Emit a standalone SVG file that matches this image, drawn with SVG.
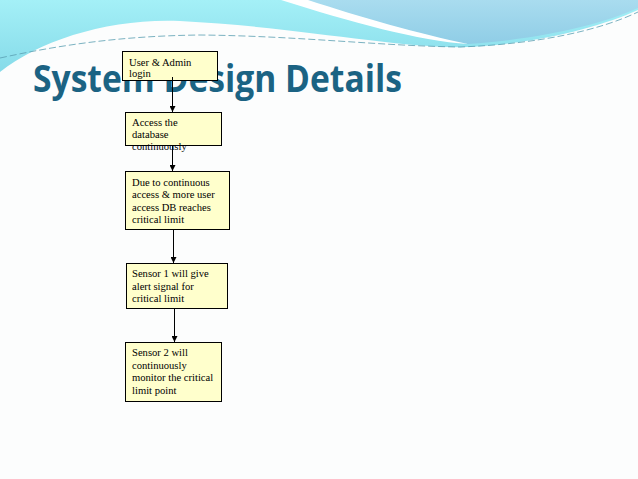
<svg xmlns="http://www.w3.org/2000/svg" width="638" height="479" viewBox="0 0 638 479">
<defs>
<linearGradient id="cy" x1="0" y1="0" x2="0" y2="1">
<stop offset="0" stop-color="#a4f0f7"/>
<stop offset="1" stop-color="#86dbe9"/>
</linearGradient>
<linearGradient id="bl" x1="0" y1="0" x2="0" y2="1">
<stop offset="0" stop-color="#a9dcef"/>
<stop offset="1" stop-color="#8fcde6"/>
</linearGradient>
<marker id="ah" viewBox="0 0 10 10" refX="10" refY="5" markerWidth="6" markerHeight="6" markerUnits="userSpaceOnUse" orient="auto">
<path d="M0,0 L10,5 L0,10 Z" fill="#000"/>
</marker>
<style>
.box{fill:#ffffcc;stroke:#000;stroke-width:1}
.t{font-family:"Liberation Serif","Times New Roman",serif;font-size:10.6px;fill:#000}
.c{stroke:#000;stroke-width:1;fill:none;marker-end:url(#ah)}
.title{font-family:"Open Sans","Liberation Sans",sans-serif;font-weight:bold;font-size:37px;fill:#1b6383}
</style>
</defs>
<rect width="638" height="479" fill="#fcfdfd"/>
<g id="background">
<path d="M0,0 H638 V10 C600,27 540,43 470,47 C400,49 300,27 180,21 C110,18 40,40 0,72 Z" fill="url(#cy)"/>
<path d="M300,0 H638 V8 C600,25 540,39 468,44 C420,38 370,20 306,0 Z" fill="url(#bl)"/>
<path d="M281,0 H308 C360,17 420,34 468,44 C420,41 350,22 281,0 Z" fill="#ffffff"/>
<path d="M0,58 C60,45 120,36 200,35 C300,36 380,46 460,47 C540,44 600,30 638,12" stroke="#5a9fb2" stroke-width="1" stroke-dasharray="7,3" fill="none" opacity="0.8"/>
</g>
<text class="title" x="33" y="92" textLength="369" lengthAdjust="spacingAndGlyphs">System Design Details</text>
<g id="n1">
<rect class="box" x="122.5" y="51.5" width="95" height="29"/>
<text class="t" x="129" y="66">User &amp; Admin</text>
<text class="t" x="129" y="77">login</text>
</g>
<g id="n2">
<rect class="box" x="125.5" y="112.5" width="96" height="33"/>
<text class="t" x="132" y="126">Access the</text>
<text class="t" x="132" y="138">database</text>
<text class="t" x="132" y="149.5">continuously</text>
</g>
<g id="n3">
<rect class="box" x="125.5" y="171.5" width="104" height="58"/>
<text class="t" x="132" y="185.5">Due to continuous</text>
<text class="t" x="132" y="198">access &amp; more user</text>
<text class="t" x="132" y="210.5">access DB reaches</text>
<text class="t" x="132" y="223">critical limit</text>
</g>
<g id="n4">
<rect class="box" x="126.5" y="263.5" width="101" height="45"/>
<text class="t" x="132" y="277">Sensor 1 will give</text>
<text class="t" x="132" y="289.5">alert signal for</text>
<text class="t" x="132" y="302">critical limit</text>
</g>
<g id="n5">
<rect class="box" x="125.5" y="342.5" width="96" height="59"/>
<text class="t" x="132" y="356">Sensor 2 will</text>
<text class="t" x="132" y="368.5">continuously</text>
<text class="t" x="132" y="381">monitor the critical</text>
<text class="t" x="132" y="393.5">limit point</text>
</g>
<g id="connectors">
<path class="c" d="M172.5,77 V112"/>
<path class="c" d="M172.5,145 V171"/>
<path class="c" d="M173.5,229 V263"/>
<path class="c" d="M174.5,308 V342"/>
</g>
</svg>
